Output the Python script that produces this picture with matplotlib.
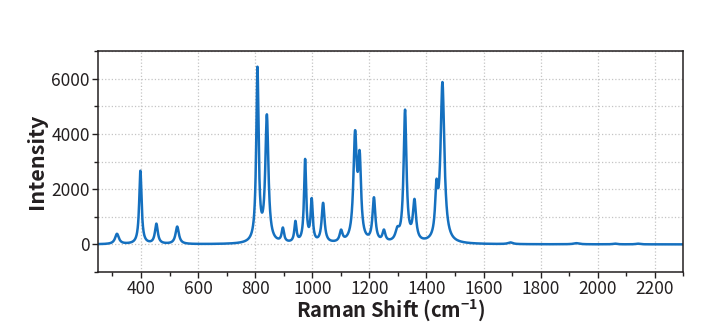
# -*- coding: utf-8 -*-
"""
Raman spectrum — peak list read off the reference plot
"""

import numpy as np
import matplotlib
matplotlib.use('Agg')
import matplotlib.pyplot as plt
from matplotlib.ticker import MultipleLocator

plt.rcParams['font.family'] = ['Noto Sans CJK JP', 'DejaVu Sans']

# Peak positions (cm-1), heights and half widths
peak_pos = [316, 398, 454, 527, 808, 841, 897, 941, 975, 998, 1038, 1101,
            1150, 1166, 1216, 1251, 1298, 1325, 1358, 1435, 1456,
            1694, 1925, 2060, 2140]
peak_height = [370, 2650, 720, 630, 6250, 4550, 500, 740, 2980, 1500, 1430, 400,
               3750, 2750, 1580, 400, 360, 4750, 1430, 1600, 5750,
               60, 40, 25, 25]
peak_hwhm = [8, 5, 6, 7, 5, 6.5, 5, 4.5, 4.5, 4.5, 6, 6,
             7, 6, 6, 6, 8, 6, 6.5, 5.5, 8,
             10, 12, 8, 8]

x_ticks = [400, 600, 800, 1000, 1200, 1400, 1600, 1800, 2000, 2200]
y_ticks = [0, 2000, 4000, 6000]

shift = np.arange(250, 2300.5, 0.5)
intensity = np.zeros_like(shift)
for p, h, w in zip(peak_pos, peak_height, peak_hwhm):
    intensity += h * w**2 / ((shift - p)**2 + w**2)

fig, ax = plt.subplots(figsize=(7.06, 3.25), dpi=100)
fig.subplots_adjust(left=0.139, right=0.968, top=0.843, bottom=0.163)

ax.plot(shift, intensity, color='#1570bf', linewidth=1.8)

ax.set_xlim(250, 2300)
ax.set_ylim(-1000, 7000)
ax.set_xticks(x_ticks)
ax.set_yticks(y_ticks)
ax.xaxis.set_minor_locator(MultipleLocator(100))
ax.yaxis.set_minor_locator(MultipleLocator(1000))

ax.grid(True, which='major', axis='x', linestyle=':', color='#c4c4c4', linewidth=0.9)
ax.grid(True, which='both', axis='y', linestyle=':', color='#c4c4c4', linewidth=0.9)
ax.set_axisbelow(True)

ax.tick_params(axis='both', which='major', direction='out', length=4,
               width=1, color='#231f20', labelsize=12.5, labelcolor='#231f20', pad=2)
ax.tick_params(axis='both', which='minor', direction='out', length=3,
               width=1, color='#231f20')
for s in ax.spines.values():
    s.set_color('#231f20')
    s.set_linewidth(1.1)

ax.set_xlabel('Raman Shift (cm$^{\\mathregular{-1}}$)', fontsize=14.5,
              fontweight='bold', color='#231f20', labelpad=-1)
ax.set_ylabel('Intensity', fontsize=15.5, fontweight='bold',
              color='#231f20', labelpad=3)

fig.savefig('out.png', dpi=100)
